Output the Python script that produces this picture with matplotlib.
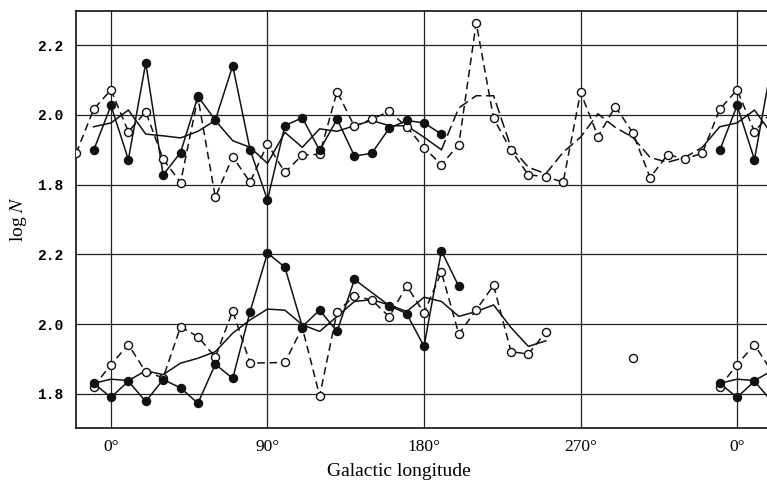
import numpy as np
import matplotlib
matplotlib.use('Agg')
import matplotlib.pyplot as plt

plt.rcParams['font.family'] = ['Liberation Serif', 'DejaVu Serif']
plt.rcParams['mathtext.fontset'] = 'stix'

# longitudes 0..350 every 10 deg
lon = np.arange(0, 360, 10)
nan = np.nan

# upper group
top_filled = [2.027, 1.872, 2.149, 1.828, 1.892, 2.053, 1.985, 2.141, 1.900, 1.756,
              1.969, 1.992, 1.898, 1.988, 1.882, 1.890, 1.962, 1.984, 1.977, 1.945,
              nan, nan, nan, nan, nan, nan, nan, nan, nan, nan,
              nan, nan, nan, nan, nan, 1.898]
top_open = [2.072, 1.952, 2.009, 1.873, 1.806, 2.050, 1.764, 1.880, 1.807, 1.917,
            1.835, 1.885, 1.887, 2.067, 1.967, 1.988, 2.010, 1.966, 1.906, 1.857,
            1.915, 2.264, 1.990, 1.899, 1.828, 1.823, 1.807, 2.065, 1.938, 2.024,
            1.949, 1.820, 1.886, 1.874, 1.890, 2.016]
top_mean = [1.977, 2.014, 1.945, 1.940, 1.934, 1.953, 1.984, 1.926, 1.907, 1.861,
            1.950, 1.907, 1.960, 1.953, 1.969, 1.984, 1.969, 1.969, 1.936, 1.900,
            2.020, 2.055, 2.055, 1.907, 1.850, 1.831, 1.893, 1.936, 2.003, 1.964,
            1.936, 1.878, 1.864, 1.878, 1.907, 1.966]

# lower group
low_filled = [1.790, 1.836, 1.778, 1.841, 1.817, 1.773, 1.885, 1.844, 2.036, 2.204,
              2.163, 1.993, 2.040, 1.979, 2.128, nan, 2.053, 2.030, 1.936, 2.210,
              2.108, nan, nan, nan, nan, nan, nan, nan, nan, nan,
              nan, nan, nan, nan, nan, 1.830]
low_open = [1.884, 1.941, 1.863, 1.846, 1.992, 1.964, 1.905, 2.038, 1.888, nan,
            1.890, 1.990, 1.794, 2.035, 2.081, 2.069, 2.021, 2.110, 2.032, 2.149,
            1.971, 2.041, 2.111, 1.921, 1.914, 1.977, nan, nan, nan, nan,
            1.902, nan, nan, nan, nan, 1.820]
low_mean = [1.842, 1.838, 1.866, 1.855, 1.888, 1.902, 1.921, 1.974, 2.012, 2.043,
            2.040, 1.998, 1.979, 2.022, 2.065, 2.070, 2.055, 2.036, 2.077, 2.065,
            2.022, 2.036, 2.055, 1.990, 1.936, 1.952, nan, nan, nan, nan,
            nan, nan, nan, nan, nan, 1.830]

LOW_SHIFT = 0.6  # lower group drawn 0.6 below the upper one


def wrap(vals):
    # repeat the ends so the plot runs from -20 to 380 deg
    v = np.asarray(vals, float)
    x = np.concatenate([lon[-2:] - 360, lon, lon[:3] + 360])
    y = np.concatenate([v[-2:], v, v[:3]])
    return x, y


def segments(x, y):
    ok = ~np.isnan(y)
    x, y = x[ok], y[ok]
    cut = np.where(np.diff(x) > 20)[0] + 1
    return zip(np.split(x, cut), np.split(y, cut))


def draw(ax, vals, shift, ls, marker=None, filled=True, xmin=-20, xmax=380):
    x, y = wrap(vals)
    keep = (x >= xmin) & (x <= xmax)
    x, y = x[keep], y[keep] - shift
    for sx, sy in segments(x, y):
        ax.plot(sx, sy, color='#111111', lw=1.1, ls=ls, zorder=2)
    if marker:
        ok = ~np.isnan(y)
        ax.plot(x[ok], y[ok], ls='none', marker='o', ms=5.8,
                mfc='#111111' if filled else 'white', mec='#111111', mew=1.0,
                zorder=4 if filled else 3)


fig = plt.figure(figsize=(7.67, 4.83), dpi=100)
ax = fig.add_axes([0.0991, 0.1139, 0.9009, 0.8633])

dash = (0, (5, 3))
dash_mean = (0, (7, 3))

draw(ax, top_open, 0, dash, marker=True, filled=False)
draw(ax, top_filled, 0, '-', marker=True, filled=True)
draw(ax, top_mean, 0, '-', xmin=-10, xmax=190)
draw(ax, top_mean, 0, dash_mean, xmin=190, xmax=340)
draw(ax, top_mean, 0, '-', xmin=340)

draw(ax, low_open, LOW_SHIFT, dash, marker=True, filled=False)
draw(ax, low_filled, LOW_SHIFT, '-', marker=True, filled=True)
draw(ax, low_mean, LOW_SHIFT, '-', xmin=-10)

ax.set_xlim(-20.1, 377.2)
ax.set_ylim(1.102, 2.298)

xt = [0, 90, 180, 270, 360]
ax.set_xticks(xt)
ax.set_xticklabels(['0°', '90°', '180°', '270°', '0°'], fontsize=12.5)
yt = [1.2, 1.4, 1.6, 1.8, 2.0, 2.2]
ax.set_yticks(yt)
ax.set_yticklabels(['1.8', '2.0', '2.2', '1.8', '2.0', '2.2'],
                   family='Liberation Mono', fontsize=10.5, fontweight='bold')
ax.tick_params(length=0, pad=9)
ax.tick_params(axis='x', pad=8)

for v in xt:
    ax.axvline(v, color='#222222', lw=0.9, zorder=1)
for v in yt:
    ax.axhline(v, color='#222222', lw=0.9, zorder=1)

for s in ['left', 'bottom', 'top']:
    ax.spines[s].set_linewidth(1.2)
    ax.spines[s].set_color('#111111')
ax.spines['right'].set_visible(False)

ax.set_xlabel('Galactic longitude', fontsize=14, labelpad=2)
ax.xaxis.set_label_coords(0.467, -0.085)
ax.set_ylabel('log $N$', fontsize=14)
ax.yaxis.set_label_coords(-0.068, 0.5)

fig.savefig('out.png', dpi=100)
